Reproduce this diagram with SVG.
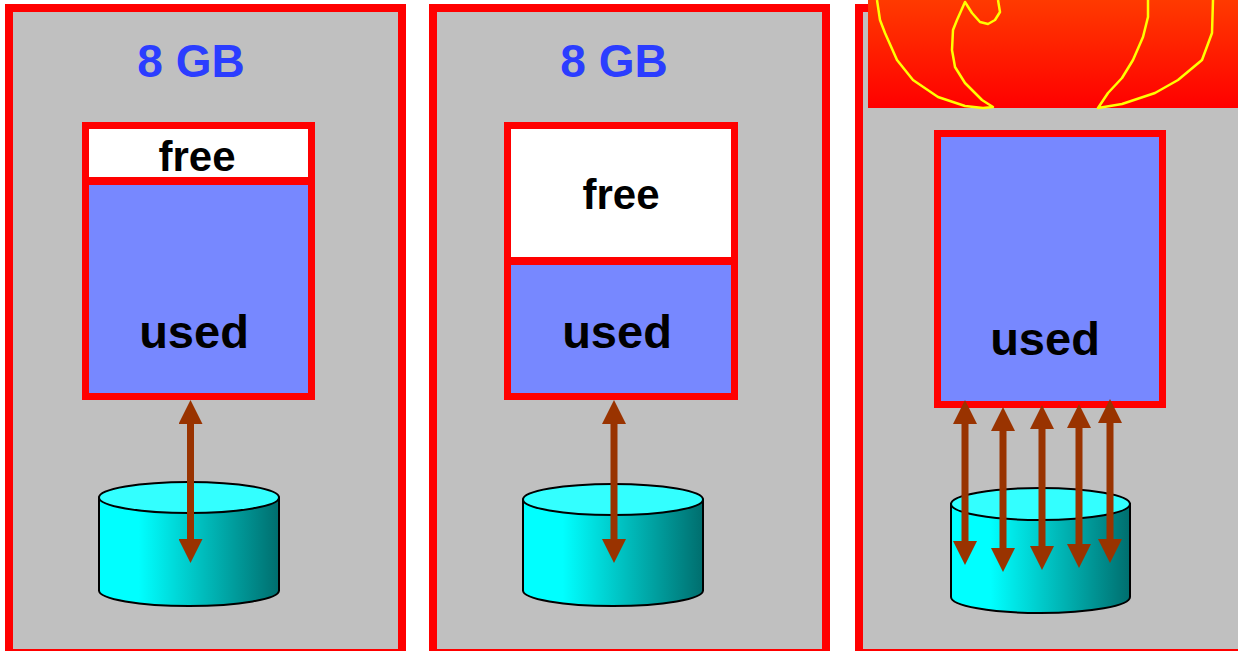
<svg xmlns="http://www.w3.org/2000/svg" width="1238" height="651" viewBox="0 0 1238 651">
  <defs>
    <linearGradient id="cylSide" x1="0" y1="0" x2="1" y2="0">
      <stop offset="0" stop-color="#00FFFF"/>
      <stop offset="0.22" stop-color="#00FFFF"/>
      <stop offset="1" stop-color="#006E6E"/>
    </linearGradient>
    <linearGradient id="flame" x1="0" y1="0" x2="0" y2="1">
      <stop offset="0" stop-color="#FF3A00"/>
      <stop offset="1" stop-color="#FF0000"/>
    </linearGradient>
    <marker id="head" markerUnits="userSpaceOnUse" markerWidth="24" markerHeight="24" viewBox="0 0 24 24" refX="4" refY="12" orient="auto-start-reverse">
      <path d="M0,0 L24,12 L0,24 Z" fill="#993300"/>
    </marker>
  </defs>
  <style>
    .panel { fill: #C0C0C0; stroke: #FF0000; stroke-width: 8; }
    .mem { fill: #7788FF; stroke: #FF0000; stroke-width: 7; }
    .free { fill: #FFFFFF; }
    .split { stroke: #FF0000; stroke-width: 8; }
    .size { font-family: "Liberation Sans", Arial, sans-serif; font-weight: bold; font-size: 46px; fill: #2B3DFF; text-anchor: middle; }
    .lbl { font-family: "Liberation Sans", Arial, sans-serif; font-weight: bold; fill: #000000; text-anchor: middle; }
    .cyl { stroke: #000000; stroke-width: 2; }
    .io { stroke: #993300; stroke-width: 7; fill: none; marker-start: url(#head); marker-end: url(#head); }
    .fire-line { fill: none; stroke: #FFFF00; stroke-width: 2.5; stroke-linejoin: round; }
  </style>

  <rect width="1238" height="651" fill="#FFFFFF"/>

  <!-- server 1: small free area -->
  <g id="server1">
    <rect class="panel" x="9" y="8" width="393" height="645"/>
    <text class="size" x="191" y="77">8 GB</text>
    <rect class="mem" x="85.5" y="125.5" width="226" height="271"/>
    <rect class="free" x="89" y="129" width="219" height="48"/>
    <line class="split" x1="85" y1="181" x2="312" y2="181"/>
    <text class="lbl" x="197" y="171" font-size="42">free</text>
    <text class="lbl" x="194" y="348" font-size="47">used</text>
    <g id="disk1">
      <path class="cyl" fill="url(#cylSide)" d="M99,497.5 L99,590.5 A90,15.5 0 0 0 279,590.5 L279,497.5 Z"/>
      <ellipse class="cyl" cx="189" cy="497.5" rx="90" ry="15.5" fill="#33FFFF"/>
    </g>
  </g>

  <!-- server 2: larger free area -->
  <g id="server2">
    <rect class="panel" x="433" y="8" width="393" height="645"/>
    <text class="size" x="614" y="77">8 GB</text>
    <rect class="mem" x="507.5" y="125.5" width="227" height="271"/>
    <rect class="free" x="511" y="129" width="220" height="128"/>
    <line class="split" x1="507" y1="261" x2="735" y2="261"/>
    <text class="lbl" x="621" y="209" font-size="42">free</text>
    <text class="lbl" x="617" y="348" font-size="47">used</text>
    <g id="disk2">
      <path class="cyl" fill="url(#cylSide)" d="M523,499.5 L523,590.5 A90,15.5 0 0 0 703,590.5 L703,499.5 Z"/>
      <ellipse class="cyl" cx="613" cy="499.5" rx="90" ry="15.5" fill="#33FFFF"/>
    </g>
  </g>

  <!-- server 3: memory full, swapping -->
  <g id="server3">
    <rect class="panel" x="859" y="8" width="400" height="645"/>
    <g id="fire">
      <rect x="868" y="0" width="370" height="108" fill="url(#flame)"/>
      <path class="fire-line" d="M877,0 L880,20 L885,33 L897,60 L913,80 L938,97 L965,106 L983,108 L993,107 L982,100 L965,83 L955,67 L952,50 L953,30 L957,20 L965,2 L972,13 L980,22 L988,24 L995,20 L1000,12 L998,0"/>
      <path class="fire-line" d="M1148,0 L1148,17 L1143,37 L1133,60 L1122,78 L1108,93 L1098,108 L1122,104 L1155,93 L1178,80 L1202,60 L1212,33 L1213,0"/>
    </g>
    <rect class="mem" x="937.5" y="133.5" width="225" height="271"/>
    <text class="lbl" x="1045" y="355" font-size="47">used</text>
    <g id="disk3">
      <path class="cyl" fill="url(#cylSide)" d="M951,504 L951,597 A89.5,16 0 0 0 1130,597 L1130,504 Z"/>
      <ellipse class="cyl" cx="1040.5" cy="504" rx="89.5" ry="16" fill="#33FFFF"/>
    </g>
  </g>

  <!-- memory to disk traffic -->
  <g id="connectors">
    <line class="io" x1="190.5" y1="420" x2="190.5" y2="543"/>
    <line class="io" x1="614" y1="420" x2="614" y2="543"/>
    <line class="io" x1="965" y1="420" x2="965" y2="545"/>
    <line class="io" x1="1003" y1="427" x2="1003" y2="552"/>
    <line class="io" x1="1042" y1="425" x2="1042" y2="550"/>
    <line class="io" x1="1079" y1="424" x2="1079" y2="548"/>
    <line class="io" x1="1110" y1="419" x2="1110" y2="543"/>
  </g>
</svg>
